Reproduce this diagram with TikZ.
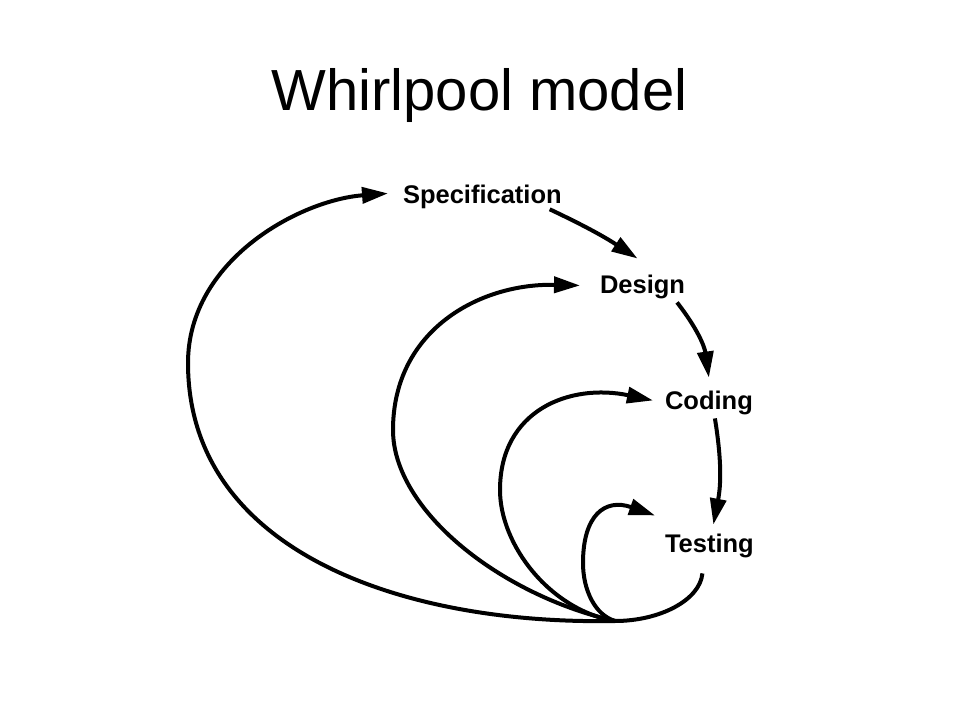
\documentclass[tikz,border=0pt]{standalone}
\usepackage{fontspec}
\setmainfont{Liberation Sans}
\usetikzlibrary{arrows.meta}
\begin{document}
\begin{tikzpicture}[x=1pt,y=1pt,
  titlefont/.style={font=\fontsize{58}{68}\selectfont},
  phase/.style={font=\bfseries\fontsize{25.5}{30}\selectfont, inner sep=0pt, outer sep=0pt, anchor=base west},
  flow/.style={line width=4pt, -{Triangle[length=26pt,width=16pt]}},
  plain/.style={line width=4pt}]
\useasboundingbox (0,0) rectangle (960,720);
\fill[white] (0,0) rectangle (960,720);

\node[titlefont, anchor=base] (title) at (479.5,609) {Whirlpool model};

\node[phase] (spec) at (403,516) {Specification};
\node[phase] (design) at (600,426) {Design};
\node[phase] (coding) at (665,310) {Coding};
\node[phase] (testing) at (665,167) {Testing};

\coordinate (conv) at (615,99);

% forward flow
\draw[flow] ([xshift=-12pt]spec.south east) to[bend left=4] ([xshift=-5pt,yshift=17pt]design.north);
\draw[flow] ([xshift=-8pt,yshift=-3pt]design.south east) to[bend left=15] ([yshift=14pt]coding.north);
\draw[flow] ([xshift=6pt,yshift=-3pt]coding.south) to[bend left=10] ([xshift=4pt,yshift=10pt]testing.north);

% testing back to the whirlpool centre
\draw[plain] ([xshift=-7pt,yshift=-15pt]testing.south) .. controls (700,120) and (660,99) .. (conv);

% return loops
\draw[flow] (conv) .. controls (400,95) and (188,170) .. (188,357)
  .. controls (188,460) and (300,520) .. ([xshift=-15pt,yshift=4pt]spec.west);
\draw[flow] (conv) .. controls (500,125) and (393,210) .. (393,290)
  .. controls (393,390) and (480,437) .. ([xshift=-20pt,yshift=2pt]design.west);
\draw[flow] (conv) .. controls (550,110) and (500,175) .. (500,230)
  .. controls (500,310) and (570,337) .. ([xshift=-12pt,yshift=3pt]coding.west);
\draw[flow] (conv) .. controls (595,105) and (583,130) .. (583,157)
  .. controls (583,205) and (605,222) .. ([xshift=-10pt,yshift=31pt]testing.west);
\end{tikzpicture}
\end{document}
